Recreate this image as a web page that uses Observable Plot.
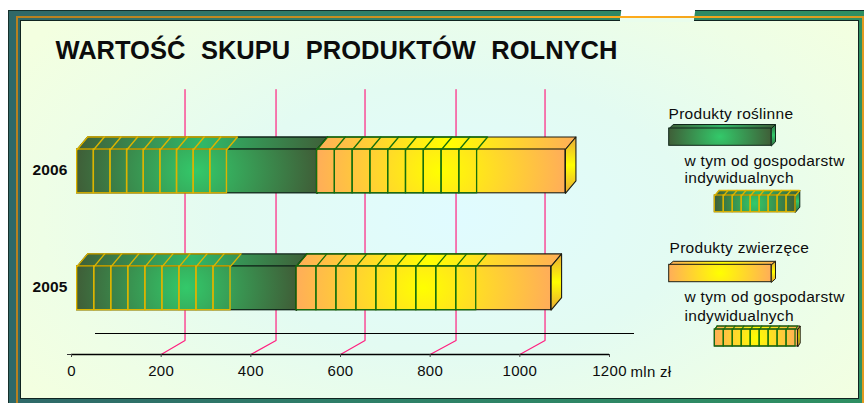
<!DOCTYPE html>
<html><head><meta charset="utf-8">
<script src="https://cdn.jsdelivr.net/npm/d3@7"></script>
<script src="https://cdn.jsdelivr.net/npm/@observablehq/plot@0.6"></script>
<style>
html,body{margin:0;background:#fff}
#c{position:relative;width:864px;height:403px;overflow:hidden;font-family:"Liberation Sans",Arial,sans-serif}
#c div{position:absolute}
#c svg{position:absolute;left:0;top:0;background:transparent}
.t-title{letter-spacing:0;word-spacing:8.5px}
.t-leg{letter-spacing:.3px}
.t-tick text{letter-spacing:.3px}
.t-year text{letter-spacing:.1px}
</style></head><body><div id="c">
<div style="left:8px;top:10px;width:856px;height:393px;background:linear-gradient(90deg,#2f6868,#2f7f68 40%,#2f8f62);clip-path:polygon(0 0,613.3px 0,612px 11px,685.7px 11px,687.3px 0,100% 0,100% 100%,0 100%)"></div>
<div style="left:8px;top:10px;width:613px;height:1px;background:#15302c"></div>
<div style="left:695px;top:10px;width:169px;height:1px;background:#15302c"></div>
<div style="left:8px;top:10px;width:1px;height:393px;background:#15302c"></div>
<div style="left:16px;top:16px;width:848px;height:1.5px;background:linear-gradient(90deg,#b8801f,#c98f20 40%,#ffab1c 72%,#d89a20)"></div>
<div style="left:16px;top:16px;width:1.5px;height:387px;background:#b8801f"></div>
<div style="left:862px;top:16px;width:2px;height:387px;background:#e09a20"></div>
<div style="left:20px;top:20px;width:839px;height:379px;box-sizing:border-box;border:1px solid #102420;background:radial-gradient(ellipse 62% 80% at 52% 52%,#e0fbff 0%,#e3fbf2 45%,#eefee6 80%,#f3ffe0 100%)"></div>
<div style="left:620px;top:17.5px;width:74px;height:4px;background:#e9fdec"></div>
</div>
<script>
// Values, mln zł
const years = [2005, 2006];
const plantTotal = [489, 535];
const plantIndividual = [342, 334];
const animalTotal = [568, 554];
const animalIndividual = [401, 357];
const axisTicks = [0, 200, 400, 600, 800, 1000, 1200];
const wallTicks = [200, 400, 600, 800, 1000];
const wallTops = [253.2, 456.2, 654.7, 857.7, 1056.2];
const segmentCount = 9;

const titleText = "WARTOŚĆ SKUPU PRODUKTÓW ROLNYCH";
const unitText = "mln zł";
const legendLabels = ["Produkty roślinne", "w tym od gospodarstw", "indywidualnych", "Produkty zwierzęce"];

// Layout: scale set-up and pixel <-> data helpers
const W = 864, H = 403, AX0 = 71, AX1 = 609, AY = 354;
const k = (AX1 - AX0) / 1200;
const rowY2005 = 287.8, rowStep = 116.9;
const X = px => (px - AX0) / k;
const Y = px => 2005 + (rowY2005 - px) / rowStep;
const U = px => px / k;            // px length as mln zł
const V = px => px / rowStep;      // px length as years
const plane = U(5.7);              // gap between axis origin and bar front
const barH = V(21.9), depthX = U(10.5), depthY = V(12.5);

const defs = () => {
  const g = document.createElementNS("http://www.w3.org/2000/svg", "g");
  const rad = (id, a, b) => `<radialGradient id="${id}" cx=".5" cy=".5" r=".5" gradientTransform="translate(.5 .5) scale(1 4.5) translate(-.5 -.5)"><stop offset="0" stop-color="${a}"/><stop offset="1" stop-color="${b}"/></radialGradient>`;
  const lin = (id, a, b, v) => `<linearGradient id="${id}" x1="0" y1="0" x2="${v?0:1}" y2="${v?1:0}"><stop offset="0" stop-color="${b}"/><stop offset=".5" stop-color="${a}"/><stop offset="1" stop-color="${b}"/></linearGradient>`;
  g.innerHTML = `<defs>${rad("pf","#33c96a","#3f5f38")}${lin("pt","#30b868","#3f5f38")}${lin("ps","#33c96a","#2f7040",true)}
  ${rad("af","#ffff00","#ffae58")}${lin("at","#ffff00","#ffae58")}${lin("as","#ffff00","#e8a838",true)}</defs>`;
  return g;
};

function box(x0, x1, yTop, yBot, dx, dy, front, top, side, edge, sw = 1) {
  const poly = (pts, fill) => Plot.line(pts, {x: "x", y: "y", fill, stroke: edge, strokeWidth: sw, curve: "linear-closed"});
  return [
    poly([{x:x0,y:yTop},{x:x0+dx,y:yTop+dy},{x:x1+dx,y:yTop+dy},{x:x1,y:yTop}], top),
    poly([{x:x1,y:yTop},{x:x1+dx,y:yTop+dy},{x:x1+dx,y:yBot+dy},{x:x1,y:yBot}], side),
    Plot.rect([0], {x1: x0, x2: x1, y1: yBot, y2: yTop, fill: front, stroke: edge, strokeWidth: sw})
  ];
}
function slices(x0, x1, yTop, yBot, dx, dy, n, color, sw) {
  const edges = d3.range(n + 1).map(i => x0 + (x1 - x0) * i / n);
  const cells = edges.slice(0, -1).map((e, i) => ({a: e, b: edges[i + 1]}));
  const slants = edges.map(e => [{x:e,y:yTop},{x:e+dx,y:yTop+dy}]).flat().map((d, i) => ({...d, z: Math.floor(i / 2)}));
  return [
    Plot.line(slants, {x: "x", y: "y", z: "z", stroke: color, strokeWidth: sw}),
    Plot.ruleY([yTop + dy], {x1: x0 + dx, x2: x1 + dx, stroke: color, strokeWidth: sw}),
    Plot.rect(cells, {x1: "a", x2: "b", y1: yBot, y2: yTop, fill: "none", stroke: color, strokeWidth: sw})
  ];
}

const barMarks = years.flatMap((yr, i) => {
  const yt = yr + barH, yb = yr - barH;
  const s = plane, m = s + plantTotal[i], e = m + animalTotal[i];
  const pI = s + plantIndividual[i], aI = m + animalIndividual[i];
  return [
    ...box(s, m, yt, yb, depthX, depthY, "url(#pf)", "url(#pt)", "url(#ps)", "#10261a", 1.3),
    ...box(m, e, yt, yb, depthX, depthY, "url(#af)", "url(#at)", "url(#as)", "#1e1e14", 1.1),
    ...slices(s, pI, yt, yb, depthX, depthY, segmentCount, "#dcb400", 1.4),
    ...slices(m, aI, yt, yb, depthX, depthY, segmentCount, "#14700c", 1.3)
  ];
});

// Legend swatches (placed in px via inverse helpers)
const legendMarks = [
  ...box(X(668.7), X(771), Y(128), Y(145.3), U(4), V(4), "url(#pf)", "url(#pt)", "url(#ps)", "#10261a", 1),
  ...box(X(714.3), X(795), Y(195), Y(211.7), U(4.3), V(5), "url(#pf)", "url(#pt)", "url(#ps)", "#10261a", 1),
  ...slices(X(714.3), X(795), Y(195), Y(211.7), U(4.3), V(5), segmentCount, "#dcb400", 1.3),
  ...box(X(668.7), X(771), Y(264.3), Y(281.7), U(4), V(3.5), "url(#af)", "url(#at)", "url(#as)", "#1e1e14", 1),
  ...box(X(714.3), X(797.5), Y(329), Y(346), U(2.2), V(3.5), "url(#af)", "url(#at)", "url(#as)", "#1e1e14", 1),
  ...slices(X(714.3), X(795), Y(329), Y(346), U(2.2), V(3.5), segmentCount, "#14700c", 1.2)
];

const txt = (s, px, py, size, weight, cls) => Plot.text([s], {
  x: X(px), y: Y(py), text: d => d, textAnchor: "start", lineAnchor: "bottom",
  fontSize: size, fontWeight: weight, fill: "#0c0c0c", className: cls, fontFamily: "Liberation Sans"
});

const wallPts = wallTicks.flatMap((t, i) => [
  {x: t, y: Y(AY), t}, {x: wallTops[i], y: Y(340), t}, {x: wallTops[i], y: Y(89), t}
]);

const svg = Plot.plot({
  width: W, height: H,
  marginLeft: AX0, marginRight: W - AX1, marginTop: 0, marginBottom: H - AY,
  style: {background: "transparent", fontFamily: "Liberation Sans", color: "#0c0c0c", overflow: "visible"},
  x: {domain: [0, 1200], axis: null},
  y: {domain: [Y(AY), Y(0)], axis: null},
  marks: [
    defs,
    Plot.line(wallPts, {x: "x", y: "y", z: "t", stroke: "#ff2080", strokeWidth: 1.2}),
    Plot.ruleY([Y(333)], {x1: X(95), x2: X(634), stroke: "#000", strokeWidth: 1}),
    Plot.ruleY([Y(AY)], {x1: X(67), x2: 0, stroke: "#333", strokeWidth: 1}),
    Plot.ruleY([Y(AY)], {x1: 0, x2: 1200, stroke: "#000", strokeWidth: 1.6}),
    ...barMarks,
    ...legendMarks,
    Plot.axisX({ticks: axisTicks, tickFormat: d => String(d), anchor: "bottom", tickSize: 3, tickPadding: 8, label: null, fontSize: 15, stroke: "#444", strokeWidth: 1, className: "t-tick"}),
    Plot.axisY({ticks: years, tickFormat: d => String(d), anchor: "left", tickSize: 0, tickPadding: 4, dy: -1, label: null, fontSize: 15.5, fontWeight: "bold", className: "t-year"}),
    txt(titleText, 55, 58, 25.5, "bold", "t-title"),
    txt(unitText, 630, 376.5, 15, "normal", "t-leg"),
    txt(legendLabels[0], 668, 118, 15.5, "normal", "t-leg"),
    txt(legendLabels[1], 684, 165.5, 15.5, "normal", "t-leg"),
    txt(legendLabels[2], 684, 182.5, 15.5, "normal", "t-leg"),
    txt(legendLabels[3], 669, 252, 15.5, "normal", "t-leg"),
    txt(legendLabels[1], 684, 301.7, 15.5, "normal", "t-leg"),
    txt(legendLabels[2], 684, 320.7, 15.5, "normal", "t-leg")
  ]
});
document.getElementById("c").appendChild(svg);
</script></body></html>
